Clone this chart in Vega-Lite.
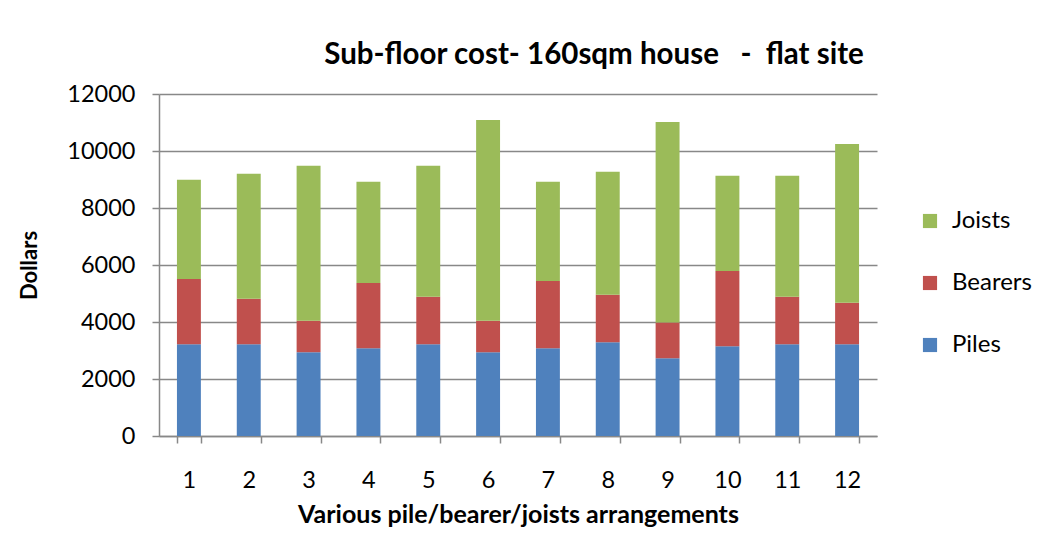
{
  "$schema": "https://vega.github.io/schema/vega-lite/v6.json",
  "autosize": {"type": "none"},
  "padding": {"left": 159, "top": 94, "right": 182, "bottom": 120},
  "width": 718,
  "height": 342,
  "background": "white",
  "title": {
    "text": "Sub-floor cost- 160sqm house \u00a0 - \u00a0flat site",
    "font": "Lato",
    "fontSize": 29.5,
    "fontWeight": "bold",
    "color": "#000000",
    "anchor": "middle",
    "dx": 76,
    "offset": 12
  },
  "data": {
    "values": [
      {"arrangement": 1, "component": "Piles", "level": 1, "cost": 3220},
      {"arrangement": 1, "component": "Bearers", "level": 2, "cost": 2290},
      {"arrangement": 1, "component": "Joists", "level": 3, "cost": 3480},
      {"arrangement": 2, "component": "Piles", "level": 1, "cost": 3220},
      {"arrangement": 2, "component": "Bearers", "level": 2, "cost": 1595},
      {"arrangement": 2, "component": "Joists", "level": 3, "cost": 4385},
      {"arrangement": 3, "component": "Piles", "level": 1, "cost": 2940},
      {"arrangement": 3, "component": "Bearers", "level": 2, "cost": 1105},
      {"arrangement": 3, "component": "Joists", "level": 3, "cost": 5435},
      {"arrangement": 4, "component": "Piles", "level": 1, "cost": 3080},
      {"arrangement": 4, "component": "Bearers", "level": 2, "cost": 2290},
      {"arrangement": 4, "component": "Joists", "level": 3, "cost": 3550},
      {"arrangement": 5, "component": "Piles", "level": 1, "cost": 3220},
      {"arrangement": 5, "component": "Bearers", "level": 2, "cost": 1665},
      {"arrangement": 5, "component": "Joists", "level": 3, "cost": 4595},
      {"arrangement": 6, "component": "Piles", "level": 1, "cost": 2940},
      {"arrangement": 6, "component": "Bearers", "level": 2, "cost": 1105},
      {"arrangement": 6, "component": "Joists", "level": 3, "cost": 7040},
      {"arrangement": 7, "component": "Piles", "level": 1, "cost": 3080},
      {"arrangement": 7, "component": "Bearers", "level": 2, "cost": 2360},
      {"arrangement": 7, "component": "Joists", "level": 3, "cost": 3480},
      {"arrangement": 8, "component": "Piles", "level": 1, "cost": 3290},
      {"arrangement": 8, "component": "Bearers", "level": 2, "cost": 1665},
      {"arrangement": 8, "component": "Joists", "level": 3, "cost": 4315},
      {"arrangement": 9, "component": "Piles", "level": 1, "cost": 2730},
      {"arrangement": 9, "component": "Bearers", "level": 2, "cost": 1255},
      {"arrangement": 9, "component": "Joists", "level": 3, "cost": 7030},
      {"arrangement": 10, "component": "Piles", "level": 1, "cost": 3150},
      {"arrangement": 10, "component": "Bearers", "level": 2, "cost": 2640},
      {"arrangement": 10, "component": "Joists", "level": 3, "cost": 3340},
      {"arrangement": 11, "component": "Piles", "level": 1, "cost": 3220},
      {"arrangement": 11, "component": "Bearers", "level": 2, "cost": 1665},
      {"arrangement": 11, "component": "Joists", "level": 3, "cost": 4245},
      {"arrangement": 12, "component": "Piles", "level": 1, "cost": 3220},
      {"arrangement": 12, "component": "Bearers", "level": 2, "cost": 1455},
      {"arrangement": 12, "component": "Joists", "level": 3, "cost": 5570}
    ]
  },
  "mark": {"type": "bar"},
  "encoding": {
    "x": {
      "field": "arrangement",
      "type": "ordinal",
      "scale": {"paddingInner": 0.6, "paddingOuter": 0.3},
      "axis": {
        "title": "Various pile/bearer/joists arrangements",
        "labelAngle": 0,
        "tickBand": "extent",
        "tickSize": 7,
        "tickColor": "#888888",
        "tickWidth": 1.5,
        "domainColor": "#888888",
        "domainWidth": 1.5,
        "labelFont": "Lato",
        "labelFontSize": 23.5,
        "labelColor": "#000000",
        "labelPadding": 25,
        "titleFont": "Lato",
        "titleFontSize": 25,
        "titleFontWeight": "bold",
        "titleColor": "#000000",
        "titlePadding": 11,
        "grid": false
      }
    },
    "y": {
      "field": "cost",
      "type": "quantitative",
      "stack": "zero",
      "scale": {"domain": [0, 12000], "nice": false},
      "axis": {
        "title": "Dollars",
        "values": [0, 2000, 4000, 6000, 8000, 10000, 12000],
        "format": "d",
        "tickSize": 7,
        "tickColor": "#888888",
        "tickWidth": 1.5,
        "domainColor": "#888888",
        "domainWidth": 1.5,
        "gridColor": "#888888",
        "gridWidth": 1.4,
        "labelFont": "Lato",
        "labelFontSize": 23.5,
        "labelColor": "#000000",
        "labelPadding": 17,
        "titleFont": "Lato",
        "titleFontSize": 22,
        "titleFontWeight": "bold",
        "titleColor": "#000000",
        "titlePadding": 25
      }
    },
    "color": {
      "field": "component",
      "type": "nominal",
      "scale": {
        "domain": ["Joists", "Bearers", "Piles"],
        "range": ["#9BBB59", "#C0504D", "#4F81BD"]
      },
      "legend": {
        "title": null,
        "orient": "none",
        "legendX": 759,
        "legendY": 115,
        "symbolType": "square",
        "symbolSize": 200,
        "symbolStrokeWidth": 0,
        "labelFont": "Lato",
        "labelFontSize": 24,
        "labelColor": "#000000",
        "labelOffset": 10,
        "rowPadding": 38,
        "padding": 0
      }
    },
    "order": {"field": "level", "type": "quantitative", "sort": "ascending"}
  },
  "config": {
    "view": {"stroke": null},
    "axis": {"labelFlush": false}
  }
}
